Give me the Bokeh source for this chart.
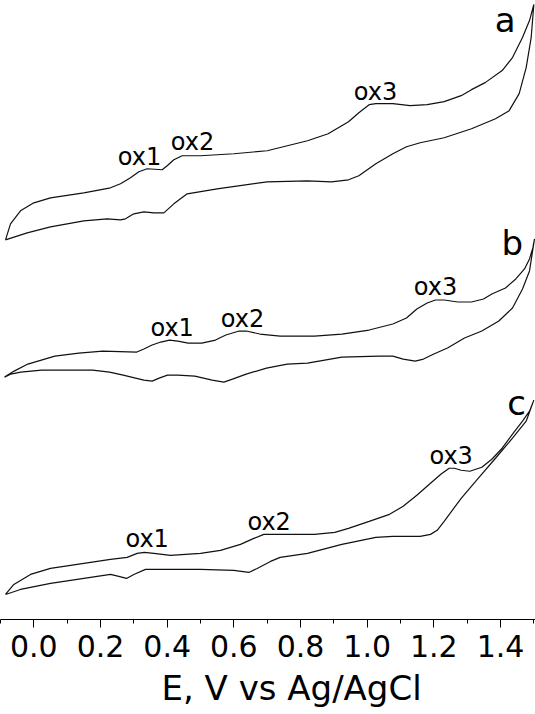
from bokeh.plotting import figure
from bokeh.models import Range1d, FixedTicker, PrintfTickFormatter, Title
from bokeh.core.properties import value
from bokeh.embed import file_html
from bokeh.resources import INLINE

# ---- data (E in V, current in arbitrary offset units) ----
# curve a : forward (anodic) and reverse branches
e_a_fwd = [-0.085, -0.070, -0.040, 0.000, 0.050, 0.150, 0.230, 0.260, 0.290, 0.315,
           0.340, 0.385, 0.400, 0.420, 0.445, 0.500, 0.600, 0.700, 0.821, 0.883,
           0.944, 0.975, 1.006, 1.026, 1.077, 1.129, 1.180, 1.231, 1.282, 1.313,
           1.354, 1.405, 1.436, 1.466, 1.487, 1.500]
i_a_fwd = [37.9, 39.5, 40.8, 41.6, 42.1, 42.6, 43.1, 43.5, 44.1, 44.7,
           45.0, 44.9, 45.3, 45.9, 46.3, 46.3, 46.5, 46.8, 47.8, 48.5,
           49.7, 50.6, 51.4, 51.5, 51.5, 51.3, 51.4, 51.7, 52.3, 52.9,
           53.6, 54.8, 56.1, 58.1, 59.8, 61.4]
e_a_rev = [1.500, 1.492, 1.477, 1.456, 1.426, 1.385, 1.313, 1.231, 1.159, 1.118,
           1.077, 1.026, 0.975, 0.944, 0.893, 0.821, 0.700, 0.550, 0.460, 0.420,
           0.390, 0.360, 0.330, 0.300, 0.275, 0.260, 0.220, 0.150, 0.050, -0.020,
           -0.085]
i_a_rev = [61.4, 58.1, 55.1, 52.5, 50.8, 50.0, 49.0, 48.1, 47.6, 47.2,
           46.5, 45.5, 44.3, 43.9, 43.7, 43.8, 43.7, 43.0, 42.5, 41.5,
           40.6, 40.6, 40.7, 40.5, 40.0, 39.9, 40.0, 39.8, 39.2, 38.6,
           37.9]

# curve b
e_b_fwd = [-0.088, -0.059, -0.018, 0.063, 0.135, 0.207, 0.309, 0.330, 0.355, 0.381,
           0.407, 0.432, 0.463, 0.504, 0.545, 0.576, 0.616, 0.637, 0.678, 0.739,
           0.842, 0.924, 1.006, 1.077, 1.118, 1.149, 1.180, 1.205, 1.231, 1.272,
           1.313, 1.349, 1.374, 1.415, 1.446, 1.472, 1.487, 1.497, 1.502]
i_b_fwd = [24.2, 24.8, 25.5, 26.3, 26.6, 26.8, 26.7, 27.0, 27.4, 27.7,
           27.9, 27.8, 27.6, 27.6, 27.9, 28.4, 28.8, 28.8, 28.5, 28.3,
           28.3, 28.5, 28.9, 29.5, 30.1, 31.0, 31.6, 31.9, 31.9, 31.7,
           31.7, 32.0, 32.5, 33.1, 34.0, 35.0, 36.0, 37.1, 38.0]
e_b_rev = [1.502, 1.487, 1.466, 1.436, 1.395, 1.344, 1.292, 1.241, 1.200, 1.169,
           1.144, 1.108, 1.077, 1.036, 0.924, 0.821, 0.760, 0.698, 0.637, 0.596,
           0.570, 0.535, 0.483, 0.432, 0.401, 0.376, 0.355, 0.330, 0.268, 0.227,
           0.176, 0.104, 0.023, -0.039, -0.070, -0.088]
i_b_rev = [38.0, 34.8, 33.0, 31.1, 29.8, 28.8, 28.1, 27.1, 26.5, 26.0,
           25.8, 26.0, 26.3, 26.3, 26.2, 25.6, 25.5, 25.1, 24.5, 24.0,
           23.7, 23.9, 24.3, 24.4, 24.4, 24.1, 23.8, 23.9, 24.4, 24.7,
           24.9, 24.9, 24.9, 24.7, 24.5, 24.2]

# curve c
e_c_fwd = [-0.085, -0.060, -0.010, 0.050, 0.150, 0.230, 0.280, 0.310, 0.332, 0.360,
           0.410, 0.500, 0.560, 0.620, 0.660, 0.690, 0.710, 0.770, 0.842, 0.903,
           0.944, 1.006, 1.067, 1.108, 1.149, 1.190, 1.221, 1.246, 1.262, 1.282,
           1.308, 1.344, 1.374, 1.405, 1.436, 1.466, 1.487, 1.500]
i_c_fwd = [2.5, 3.5, 4.5, 5.1, 5.6, 6.0, 6.2, 6.6, 6.7, 6.6,
           6.4, 6.6, 6.9, 7.5, 8.1, 8.5, 8.5, 8.5, 8.5, 8.7,
           9.1, 9.8, 10.5, 11.3, 12.4, 13.6, 14.5, 15.1, 15.1, 14.9,
           14.8, 15.2, 16.0, 17.1, 18.5, 19.8, 20.8, 21.9]
e_c_rev = [1.500, 1.477, 1.436, 1.385, 1.333, 1.282, 1.231, 1.210, 1.190, 1.159,
           1.077, 1.026, 0.924, 0.821, 0.739, 0.710, 0.670, 0.645, 0.600, 0.500,
           0.400, 0.335, 0.300, 0.278, 0.255, 0.230, 0.150, 0.050, -0.040, -0.085]
i_c_rev = [21.9, 19.8, 18.1, 16.1, 14.1, 12.1, 9.8, 8.9, 8.5, 8.3,
           8.3, 8.2, 7.5, 6.6, 6.2, 5.8, 5.1, 4.7, 4.9, 5.0,
           5.0, 5.0, 4.5, 4.1, 4.3, 4.5, 4.1, 3.6, 3.0, 2.5]

tick_values = [0.0, 0.2, 0.4, 0.6, 0.8, 1.0, 1.2, 1.4]
minor_tick_values = [-0.1, 0.1, 0.3, 0.5, 0.7, 0.9, 1.1, 1.3, 1.5]
x_label = "E, V vs Ag/AgCl"
curve_names = ["a", "b", "c"]
peak_names = ["ox1", "ox2", "ox3"]

# annotation anchors (E of label centre, current of label baseline)
curve_label_e = [1.414, 1.435, 1.448]
curve_label_i = [59.6, 36.8, 20.8]
peak_label_e = [[0.317, 0.476, 1.025], [0.415, 0.626, 1.205], [0.340, 0.706, 1.252]]
peak_label_i = [[45.5, 47.0, 52.0], [28.4, 29.3, 32.5], [7.3, 9.0, 15.6]]

FONT = "DejaVu Sans"
curve_label_shift = [-3, -8, -8]   # screen-pixel nudges of the a/b/c letters

p = figure(width=535, height=714, x_range=Range1d(-0.1, 1.505), y_range=Range1d(0, 61.8),
           output_backend="svg", toolbar_location=None, y_axis_location=None,
           min_border_left=0, min_border_right=0, min_border_top=0, min_border_bottom=0)
p.grid.visible = False
p.outline_line_color = None
p.background_fill_color = "white"
p.border_fill_color = "white"

curves = [(e_a_fwd + e_a_rev, i_a_fwd + i_a_rev),
          (e_b_fwd + e_b_rev, i_b_fwd + i_b_rev),
          (e_c_fwd + e_c_rev, i_c_fwd + i_c_rev)]
for xs, ys in curves:
    p.line(xs, ys, line_color="#111111", line_width=1.2)

for k in range(3):
    p.text(x=[curve_label_e[k]], y=[curve_label_i[k]], text=[curve_names[k]],
           text_font=value(FONT), text_font_size="34px", text_align="center",
           text_baseline="alphabetic", text_color="black",
           y_offset=curve_label_shift[k])
    p.text(x=peak_label_e[k], y=peak_label_i[k], text=peak_names,
           text_font=value(FONT), text_font_size="24px", text_align="center",
           text_baseline="alphabetic", text_color="black", y_offset=-7)

ax = p.xaxis[0]
ax.ticker = FixedTicker(ticks=tick_values, minor_ticks=minor_tick_values)
ax.formatter = PrintfTickFormatter(format="%.1f")
ax.major_label_text_font = FONT
ax.major_label_text_font_size = "30px"
ax.major_label_text_color = "black"
ax.axis_line_color = "black"
ax.axis_line_width = 1
ax.major_tick_out = 8
ax.major_tick_in = 0
ax.minor_tick_out = 4
ax.minor_tick_in = 0
ax.major_tick_line_color = "black"
ax.minor_tick_line_color = "black"
ax.major_label_standoff = 7

title = Title(text=x_label, align="left", offset=161, text_font=FONT,
              text_font_size="34px", text_font_style="normal", text_color="black",
              standoff=13)
p.add_layout(title, "below")

open("out.html", "w").write(file_html(p, INLINE))
